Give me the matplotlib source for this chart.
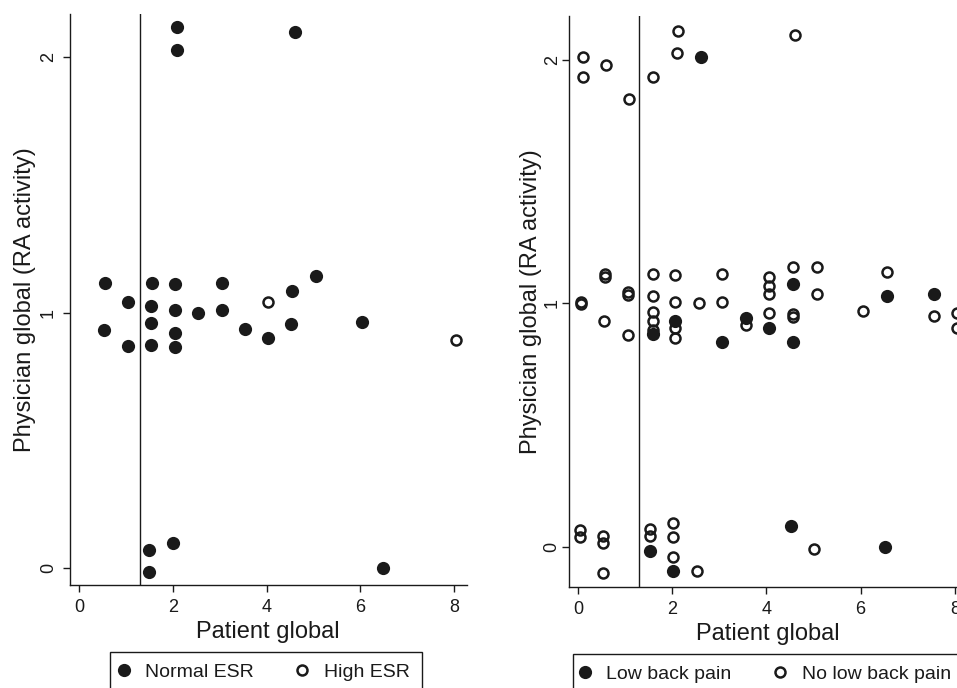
import matplotlib
matplotlib.use('agg')
import matplotlib.pyplot as plt
from matplotlib.patches import Rectangle

plt.rcParams['font.family'] = ['Liberation Sans', 'DejaVu Sans']

# Left panel: split by ESR
normal_esr_x = [0.55, 1.04, 0.53, 1.04, 1.55, 1.53, 1.53, 1.53, 2.04, 2.04, 2.04, 2.04,
                2.53, 3.04, 3.04, 3.53, 4.04, 5.06, 4.55, 4.53, 6.04, 2.08, 2.08, 4.60,
                1.49, 1.49, 2.00, 6.49]
normal_esr_y = [1.118, 1.043, 0.933, 0.871, 1.118, 1.027, 0.960, 0.875, 1.114, 1.012, 0.920, 0.865,
                1.000, 1.118, 1.012, 0.937, 0.902, 1.145, 1.086, 0.957, 0.965, 2.120, 2.030, 2.100,
                0.070, -0.016, 0.098, 0.000]
high_esr_x = [4.04, 8.04]
high_esr_y = [1.040, 0.894]

# Right panel: split by low back pain
lbp_x = [2.61, 1.59, 2.06, 3.06, 3.57, 4.06, 4.56, 4.56, 6.56, 7.56, 1.53, 2.02, 4.52, 6.52]
lbp_y = [2.010, 0.875, 0.930, 0.840, 0.940, 0.900, 1.080, 0.840, 1.030, 1.040, -0.016, -0.098, 0.086, 0.000]
no_lbp_x = [0.10, 0.10, 0.59, 1.08, 1.59, 2.12, 2.10, 4.61,
            0.06, 0.06, 0.57, 0.57, 0.55, 1.06, 1.06, 1.06,
            1.59, 1.59, 1.59, 1.59, 1.59,
            2.06, 2.06, 2.06, 2.06,
            2.57, 3.06, 3.06, 3.57,
            4.06, 4.06, 4.06, 4.06,
            4.56, 4.56, 4.56, 5.07, 5.07, 6.05, 6.56, 7.56, 8.05, 8.05,
            0.04, 0.04, 0.53, 0.53, 0.53, 1.53, 1.53, 2.02, 2.02, 2.02, 2.53, 5.01]
no_lbp_y = [2.010, 1.930, 1.980, 1.840, 1.930, 2.120, 2.030, 2.100,
            1.008, 0.998, 1.120, 1.110, 0.930, 1.045, 1.035, 0.870,
            1.120, 1.030, 0.963, 0.930, 0.890,
            1.115, 1.008, 0.898, 0.860,
            1.000, 1.120, 1.008, 0.910,
            1.110, 1.070, 1.040, 0.960,
            1.150, 0.955, 0.945, 1.150, 1.040, 0.967, 1.130, 0.950, 0.960, 0.900,
            0.070, 0.040, 0.045, 0.016, -0.107, 0.074, 0.045, 0.098, 0.040, -0.040, -0.098, -0.008]

cutoff = 1.3
x_ticks = [0, 2, 4, 6, 8]
y_ticks = [0, 1, 2]

W, H = 957, 688
INK = '#1a1a1a'
FILLED = dict(ls='none', marker='o', ms=9.5, color=INK, mec='none')
HOLLOW = dict(ls='none', marker='o', ms=7.2, mfc='none', mec=INK, mew=1.8)


def px_axes(left, top, right, bottom):
    """Axes rectangle from pixel edges."""
    return [left / W, (H - bottom) / H, (right - left) / W, (bottom - top) / H]


def style_axes(ax, xlim, ylim, label_x, ypad):
    ax.set_xlim(*xlim)
    ax.set_ylim(*ylim)
    for side in ['top', 'right']:
        ax.spines[side].set_visible(False)
    for side in ['left', 'bottom']:
        ax.spines[side].set_color(INK)
        ax.spines[side].set_linewidth(1.0)
    ax.set_xticks(x_ticks)
    ax.set_yticks(y_ticks)
    ax.tick_params(direction='out', length=5, width=1, color=INK, labelsize=13,
                   labelcolor=INK, pad=5)
    ax.tick_params(axis='y', pad=ypad)
    for lab in ax.get_yticklabels():
        lab.set_rotation(90)
        lab.set_va('center')
    ax.axvline(cutoff, color=INK, lw=1.0)
    ax.set_xlabel('Patient global', fontsize=17, color=INK, labelpad=4)
    ax.set_ylabel('Physician global (RA activity)', fontsize=17, color=INK)
    ax.yaxis.set_label_coords(label_x, 0.5)


def draw_legend(fig, box, anchor, labels):
    left, top, right, bottom = box
    fig.patches.append(Rectangle((left / W, (H - bottom) / H), (right - left) / W,
                                 (bottom - top) / H, transform=fig.transFigure,
                                 fill=False, edgecolor=INK, lw=1.0))
    filled = plt.Line2D([], [], **FILLED)
    hollow = plt.Line2D([], [], **HOLLOW)
    fig.legend([filled, hollow], labels, loc='center left', bbox_to_anchor=anchor,
               ncol=2, frameon=False, fontsize=14, handlelength=1.0, handletextpad=0.6,
               columnspacing=2.0, borderpad=0, borderaxespad=0, labelcolor=INK)


fig = plt.figure(figsize=(W / 100, H / 100), dpi=100)

# Left panel
ax1 = fig.add_axes(px_axes(69.5, 14, 467, 585))
ax1.plot(normal_esr_x, normal_esr_y, **FILLED)
ax1.plot(high_esr_x, high_esr_y, **HOLLOW)
style_axes(ax1, (-0.2, 8.27), (-0.067, 2.17), -0.085, 4)
draw_legend(fig, (110, 652, 422, 705), (114 / W, (H - 672) / H), ['Normal ESR', 'High ESR'])

# Right panel (runs off the right edge, like the original)
ax2 = fig.add_axes(px_axes(569, 16, 967.5, 587))
ax2.plot(lbp_x, lbp_y, **FILLED)
ax2.plot(no_lbp_x, no_lbp_y, **HOLLOW)
style_axes(ax2, (-0.19, 8.27), (-0.164, 2.18), -0.068, 1)
draw_legend(fig, (573, 654, 1000, 705), (575.3 / W, (H - 674) / H), ['Low back pain', 'No low back pain'])

fig.savefig('out.png', dpi=100)
